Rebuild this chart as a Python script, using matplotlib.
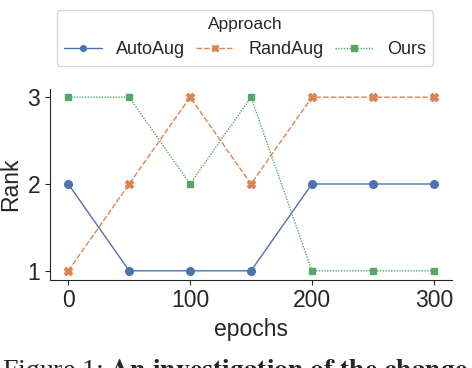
import matplotlib
matplotlib.use("Agg")
import matplotlib.pyplot as plt
import seaborn as sns

sns.set_style("ticks")
plt.rcParams['font.family'] = ['Liberation Sans', 'DejaVu Sans']

epochs = [0, 50, 100, 150, 200, 250, 300]
autoaug = [2, 1, 1, 1, 2, 2, 2]
randaug = [1, 2, 3, 2, 3, 3, 3]
ours = [3, 3, 2, 3, 1, 1, 1]

pal = sns.color_palette("deep")

fig = plt.figure(figsize=(4.72, 3.68), dpi=100)
ax = fig.add_axes([50/472, 1 - 279.5/368, 402/472, 191/368])

ax.plot(epochs, autoaug, color=pal[0], ls='-', lw=1, marker='o', ms=5.5, mec=pal[0], label='AutoAug')
ax.plot(epochs, randaug, color=pal[1], ls=(0, (4, 1.5)), lw=1, marker='X', ms=6, mec=pal[1], label='RandAug')
ax.plot(epochs, ours, color=pal[2], ls=(0, (1, 1)), lw=1, marker='s', ms=5, mec=pal[2], label='Ours')

ax.set_xticks([0, 100, 200, 300])
ax.set_yticks([1, 2, 3])
ax.tick_params(labelsize=16.5)
ax.set_xlabel('epochs', fontsize=16.5)
ax.set_ylabel('Rank', fontsize=16.5)
sns.despine(ax=ax)

leg = fig.legend(title='Approach', ncol=3, loc='upper center',
                 bbox_to_anchor=(245/472, 1 - 1/368), fontsize=13, title_fontsize=12.5,
                 handlelength=2.1, handletextpad=0.8, columnspacing=0.6,
                 markerscale=0.75, frameon=True)

fig.text(0.004, -10/368, r'Figure 1: $\bf{An\ investigation\ of\ the\ change}$',
         fontsize=20, family='Liberation Serif', va='baseline', ha='left',
         math_fontfamily='stix')

fig.savefig('out.png', dpi=100)
